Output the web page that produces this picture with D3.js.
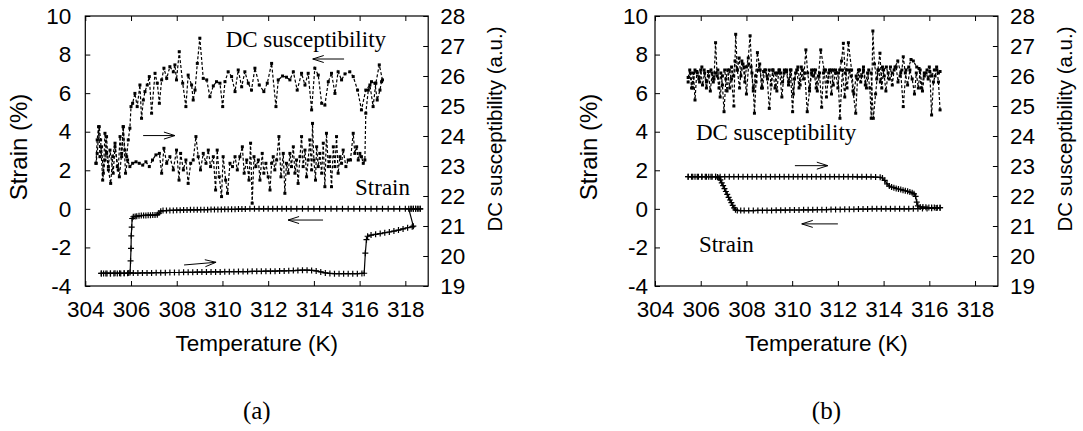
<!DOCTYPE html>
<html>
<head>
<meta charset="utf-8">
<script src="https://cdn.jsdelivr.net/npm/d3@7"></script>
<style>
  html, body { margin: 0; padding: 0; background: #fff; }
  svg { display: block; }
</style>
</head>
<body>
<svg id="chart" width="1083" height="431"></svg>
<script>
// ---------------- DATA ----------------
const xTicks = [304, 306, 308, 310, 312, 314, 316, 318];
const strainTicks = [-4, -2, 0, 2, 4, 6, 8, 10];
const suscTicks = [19, 20, 21, 22, 23, 24, 25, 26, 27, 28];
const xDomain = [304, 319];
const strainDomain = [-4, 10];
const suscDomain = [19, 28];
const panelLabels = ["(a)", "(b)"];
const xTitle = "Temperature (K)";
const yTitle = "Strain (%)";
const y2Title = "DC susceptibility (a.u.)";

// Panel (a) strain, heating branch [T, strain %]
const strainHeatA = [[304.7,-3.35],[304.9,-3.35],[305.1,-3.35],[305.3,-3.34],[305.5,-3.34],[305.7,-3.34],[305.9,-3.33],[306.1,-3.33],[306.3,-3.33],[306.5,-3.32],[306.7,-3.32],[306.9,-3.32],[307.1,-3.31],[307.3,-3.31],[307.5,-3.31],[307.7,-3.30],[307.9,-3.30],[308.1,-3.30],[308.3,-3.29],[308.5,-3.29],[308.7,-3.29],[308.9,-3.28],[309.1,-3.28],[309.3,-3.28],[309.5,-3.27],[309.7,-3.27],[309.9,-3.27],[310.1,-3.26],[310.3,-3.26],[310.5,-3.26],[310.7,-3.25],[310.9,-3.25],[311.1,-3.25],[311.3,-3.24],[311.5,-3.24],[311.7,-3.24],[311.9,-3.23],[312.1,-3.23],[312.3,-3.23],[312.5,-3.22],[312.7,-3.22],[312.9,-3.21],[313.1,-3.20],[313.3,-3.19],[313.5,-3.18],[313.7,-3.18],[313.9,-3.19],[314.1,-3.22],[314.3,-3.27],[314.5,-3.32],[314.7,-3.35],[314.9,-3.36],[315.1,-3.36],[315.3,-3.36],[315.5,-3.36],[315.7,-3.36],[315.9,-3.36],[316.1,-3.35],[316.2,-3.34],[316.25,-2.3],[316.3,-1.6],[316.35,-1.42],[316.5,-1.36],[316.7,-1.32],[316.9,-1.28],[317.1,-1.24],[317.3,-1.2],[317.5,-1.15],[317.7,-1.1],[317.9,-1.04],[318.1,-0.98],[318.3,-0.93],[318.35,-0.9],[318.15,0.0],[318.25,0.0],[318.35,0.0],[318.45,0.0],[318.55,0.0],[318.65,0.0]];
// Panel (a) strain, cooling branch
const strainCoolA = [[318.65,0],[318.55,0],[318.45,0],[318.35,0],[318.25,0],[318.0,0],[317.75,0],[317.5,0],[317.25,0],[317.0,0],[316.75,0],[316.5,0],[316.25,0],[316.0,0],[315.75,0],[315.5,0],[315.25,0],[315.0,0],[314.75,0],[314.5,0],[314.25,0],[314.0,0],[313.75,0],[313.5,0],[313.25,0],[313.0,0],[312.8,0],[312.6,0],[312.4,0],[312.2,0],[312.0,0],[311.8,0],[311.6,0],[311.4,0],[311.2,0],[311.0,-0.01],[310.85,-0.01],[310.7,-0.01],[310.55,-0.02],[310.4,-0.02],[310.25,-0.02],[310.1,-0.02],[309.95,-0.03],[309.8,-0.03],[309.65,-0.03],[309.5,-0.03],[309.35,-0.04],[309.2,-0.04],[309.05,-0.04],[308.9,-0.05],[308.75,-0.05],[308.6,-0.05],[308.45,-0.06],[308.3,-0.06],[308.15,-0.07],[308.0,-0.07],[307.85,-0.08],[307.7,-0.08],[307.55,-0.09],[307.4,-0.09],[307.3,-0.12],[307.22,-0.22],[307.15,-0.3],[307.05,-0.32],[306.95,-0.32],[306.85,-0.33],[306.75,-0.33],[306.65,-0.34],[306.55,-0.34],[306.45,-0.35],[306.35,-0.36],[306.25,-0.38],[306.18,-0.4],[306.1,-0.41],[306.05,-0.5],[306.03,-0.95],[306.01,-1.4],[306.0,-2.05],[305.98,-2.7],[305.96,-3.3],[305.85,-3.34],[305.7,-3.34],[305.55,-3.35],[305.4,-3.35],[305.25,-3.35],[305.1,-3.35],[304.95,-3.35],[304.8,-3.35],[304.7,-3.35]];
// Panel (a) DC susceptibility, heating branch [T, a.u.]
const suscHeatA = [[304.47,23.09],[304.52,23.87],[304.58,24.31],[304.64,23.31],[304.71,23.64],[304.79,22.76],[304.86,24.09],[304.93,23.42],[305.01,22.87],[305.11,22.42],[305.20,23.31],[305.30,23.76],[305.40,22.98],[305.49,22.64],[305.59,23.42],[305.66,24.31],[305.76,22.76],[305.85,23.20],[305.95,22.98],[306.07,23.09],[306.22,23.14],[306.36,23.09],[306.51,23.03],[306.65,23.14],[306.80,22.98],[306.94,23.20],[307.09,23.37],[307.24,23.42],[307.34,22.76],[307.44,23.59],[307.56,23.09],[307.70,23.31],[307.85,22.87],[307.99,23.53],[308.10,22.53],[308.17,23.42],[308.29,22.87],[308.40,23.20],[308.50,22.42],[308.61,23.09],[308.72,23.20],[308.84,23.98],[308.94,23.31],[309.04,22.87],[309.16,23.42],[309.28,23.09],[309.38,23.53],[309.48,22.98],[309.60,23.31],[309.70,22.20],[309.77,23.53],[309.86,22.64],[309.96,21.98],[310.03,23.31],[310.14,22.53],[310.22,22.09],[310.33,23.09],[310.44,22.98],[310.55,23.31],[310.65,22.87],[310.76,23.31],[310.87,23.64],[310.95,22.76],[311.06,23.20],[311.16,22.53],[311.23,23.76],[311.30,21.76],[311.38,23.31],[311.46,22.98],[311.57,23.20],[311.64,22.53],[311.74,23.42],[311.81,22.76],[311.90,23.09],[312.00,22.64],[312.08,22.20],[312.15,23.09],[312.22,23.31],[312.29,22.87],[312.37,23.20],[312.47,23.98],[312.56,22.64],[312.66,23.42],[312.73,22.09],[312.80,23.09],[312.88,22.76],[312.95,23.42],[313.02,22.98],[313.10,23.64],[313.17,22.76],[313.24,23.20],[313.31,22.42],[313.39,23.31],[313.46,23.98],[313.53,22.98],[313.61,23.53],[313.68,22.64],[313.75,23.20],[313.82,23.87],[313.90,22.87],[313.94,24.42],[314.00,23.20],[314.07,22.53],[314.12,23.64],[314.19,22.98],[314.26,23.42],[314.34,22.76],[314.41,23.76],[314.48,22.31],[314.55,24.09],[314.63,22.98],[314.70,23.31],[314.77,22.31],[314.85,23.64],[314.92,22.98],[314.99,23.98],[315.06,22.76],[315.14,23.31],[315.21,23.09],[315.28,23.53],[315.40,22.98],[315.50,23.20],[315.60,23.20],[315.72,24.09],[315.79,23.42],[315.87,23.64],[315.94,23.20],[316.01,23.42],[316.08,23.31],[316.16,23.09],[316.23,23.20],[316.27,24.76],[316.38,25.53],[316.52,25.81],[316.67,25.76],[316.77,25.20],[316.89,25.53],[316.96,25.81]];
// Panel (a) DC susceptibility, cooling branch
const suscCoolA = [[317.00,25.87],[316.86,26.37],[316.71,25.76],[316.59,24.98],[316.45,25.70],[316.27,25.53],[316.08,24.87],[315.91,25.53],[315.72,25.98],[315.57,26.14],[315.36,26.07],[315.21,25.87],[315.06,26.14],[314.92,25.42],[314.77,26.09],[314.63,25.81],[314.48,25.03],[314.34,25.09],[314.19,26.03],[314.04,26.26],[313.90,24.87],[313.75,26.09],[313.61,25.70],[313.46,26.09],[313.27,25.53],[313.10,26.14],[312.95,25.87],[312.80,25.96],[312.63,26.00],[312.44,25.87],[312.34,24.98],[312.15,26.42],[311.96,25.76],[311.81,25.48],[311.61,25.70],[311.42,26.26],[311.27,25.53],[311.13,25.76],[310.98,26.14],[310.84,25.64],[310.69,26.20],[310.55,25.48],[310.40,25.98],[310.25,26.14],[310.11,25.81],[310.01,24.98],[309.89,25.76],[309.74,25.81],[309.60,25.67],[309.45,25.31],[309.31,25.87],[309.16,25.92],[309.01,27.26],[308.90,26.42],[308.80,25.53],[308.72,25.20],[308.65,25.70],[308.50,26.03],[308.40,24.98],[308.26,25.76],[308.11,26.81],[307.99,25.87],[307.92,26.37],[307.85,26.14],[307.70,26.31],[307.56,25.92],[307.44,26.26],[307.34,25.87],[307.24,25.09],[307.15,25.76],[307.05,26.09],[306.90,24.76],[306.80,25.98],[306.71,25.70],[306.61,25.48],[306.54,25.20],[306.46,24.59],[306.39,25.70],[306.27,24.98],[306.17,25.42],[306.07,25.09],[306.00,24.98],[305.95,24.26],[305.88,23.87],[305.81,23.31],[305.73,23.53],[305.66,24.31],[305.59,23.31],[305.52,23.98],[305.44,22.87],[305.30,23.64],[305.22,22.76],[305.08,23.53],[305.01,22.98],[304.93,23.98],[304.86,23.20],[304.76,22.53],[304.67,23.87],[304.61,24.31],[304.52,23.42],[304.47,23.09]];

// Panel (b) strain, heating branch
const strainHeatB = [[305.45,1.67],[305.65,1.67],[305.85,1.67],[306.05,1.67],[306.25,1.67],[306.45,1.67],[306.65,1.67],[306.85,1.67],[307.05,1.67],[307.25,1.67],[307.45,1.67],[307.65,1.67],[307.85,1.67],[308.05,1.67],[308.25,1.67],[308.45,1.67],[308.65,1.67],[308.85,1.67],[309.05,1.67],[309.25,1.67],[309.45,1.67],[309.65,1.67],[309.85,1.67],[310.05,1.67],[310.25,1.67],[310.45,1.67],[310.65,1.67],[310.85,1.67],[311.05,1.67],[311.25,1.67],[311.45,1.67],[311.65,1.67],[311.85,1.67],[312.05,1.67],[312.25,1.67],[312.45,1.67],[312.65,1.67],[312.85,1.66],[313.05,1.66],[313.25,1.66],[313.45,1.66],[313.65,1.65],[313.85,1.64],[313.95,1.6],[314.05,1.48],[314.15,1.3],[314.25,1.18],[314.35,1.13],[314.45,1.1],[314.55,1.06],[314.65,1.03],[314.75,1.0],[314.85,0.97],[314.95,0.94],[315.05,0.91],[315.15,0.87],[315.25,0.83],[315.33,0.78],[315.4,0.65],[315.45,0.35],[315.5,0.15],[315.6,0.1],[315.72,0.09],[315.85,0.08],[315.98,0.07],[316.1,0.07],[316.22,0.07],[316.35,0.06],[316.47,0.06]];
// Panel (b) strain, cooling branch
const strainCoolB = [[316.47,0.06],[316.3,0.04],[316.1,0.03],[315.9,0.02],[315.7,0.02],[315.5,0.01],[315.3,0.01],[315.1,0.0],[314.9,0.0],[314.7,0.0],[314.5,0.0],[314.3,0.0],[314.1,0.0],[313.9,0.0],[313.7,0.0],[313.5,0.0],[313.3,-0.01],[313.1,-0.01],[312.9,-0.01],[312.7,-0.02],[312.5,-0.02],[312.3,-0.02],[312.1,-0.03],[311.9,-0.03],[311.7,-0.03],[311.5,-0.04],[311.3,-0.04],[311.1,-0.04],[310.9,-0.05],[310.7,-0.05],[310.5,-0.05],[310.3,-0.06],[310.1,-0.06],[309.9,-0.06],[309.7,-0.07],[309.5,-0.07],[309.3,-0.07],[309.1,-0.08],[308.9,-0.08],[308.7,-0.08],[308.5,-0.08],[308.3,-0.09],[308.1,-0.09],[307.9,-0.09],[307.75,-0.09],[307.6,-0.08],[307.52,-0.05],[307.46,0.05],[307.4,0.18],[307.34,0.32],[307.28,0.46],[307.22,0.6],[307.16,0.75],[307.1,0.9],[307.04,1.05],[306.98,1.2],[306.92,1.35],[306.86,1.5],[306.8,1.6],[306.74,1.65],[306.65,1.67],[306.5,1.67],[306.35,1.67],[306.2,1.67],[306.05,1.67],[305.9,1.67],[305.75,1.67],[305.6,1.67],[305.45,1.67]];
// Panel (b) DC susceptibility, heating branch
const suscHeatB = [[305.45,25.95],[305.52,26.2],[305.6,25.6],[305.68,26.1],[305.75,25.2],[305.83,26.15],[305.92,25.9],[306.0,26.2],[306.08,25.7],[306.17,26.1],[306.25,25.8],[306.33,26.15],[306.42,25.5],[306.5,26.1],[306.58,25.9],[306.65,27.11],[306.72,26.0],[306.8,25.6],[306.88,26.1],[306.95,25.7],[307.02,24.81],[307.1,25.9],[307.18,26.2],[307.27,25.6],[307.35,26.3],[307.43,26.0],[307.5,26.5],[307.6,26.2],[307.68,26.6],[307.76,26.0],[307.85,26.4],[307.93,25.8],[308.0,26.3],[308.08,26.6],[308.16,27.34],[308.24,26.1],[308.3,25.6],[308.35,24.76],[308.42,25.8],[308.5,26.2],[308.58,26.4],[308.66,25.6],[308.75,26.15],[308.84,26.2],[308.92,25.9],[309.0,26.2],[309.08,25.7],[309.16,26.2],[309.25,26.1],[309.33,25.5],[309.42,26.2],[309.5,26.1],[309.58,25.8],[309.66,26.2],[309.75,26.15],[309.84,25.7],[309.92,26.2],[310.02,24.81],[310.1,25.9],[310.2,26.2],[310.3,25.6],[310.4,26.3],[310.5,25.9],[310.6,26.87],[310.68,26.1],[310.76,25.6],[310.85,26.2],[310.93,26.0],[311.02,26.2],[311.1,25.5],[311.2,26.1],[311.29,24.96],[311.37,26.1],[311.46,26.2],[311.55,25.8],[311.63,26.2],[311.72,25.4],[311.8,26.2],[311.9,26.1],[312.0,25.6],[312.08,26.2],[312.16,26.5],[312.24,27.09],[312.32,26.1],[312.4,25.6],[312.5,26.2],[312.58,26.0],[312.66,25.5],[312.78,24.76],[312.86,25.9],[312.95,26.2],[313.04,26.0],[313.12,26.2],[313.2,25.7],[313.3,26.1],[313.4,25.6],[313.46,24.59],[313.53,27.5],[313.6,26.4],[313.7,25.9],[313.78,26.2],[313.86,25.8],[313.95,26.3],[314.03,26.0],[314.1,25.5],[314.2,26.1],[314.3,26.3],[314.38,25.7],[314.46,26.2],[314.55,26.3],[314.63,25.8],[314.72,26.0],[314.8,26.2],[314.86,26.64],[314.95,26.1],[315.05,25.7],[315.15,26.2],[315.25,25.9],[315.35,25.4],[315.43,26.1],[315.52,25.6],[315.6,26.2],[315.7,25.5],[315.78,26.0],[315.86,26.1],[315.95,25.9],[316.02,26.15],[316.1,24.7],[316.18,25.8],[316.25,26.0],[316.33,26.2],[316.4,26.1],[316.47,26.15]];
// Panel (b) DC susceptibility, cooling branch
const suscCoolB = [[316.47,24.87],[316.4,25.8],[316.32,26.3],[316.22,26.2],[316.1,26.0],[316.0,26.3],[315.9,26.2],[315.78,26.1],[315.65,25.6],[315.55,26.25],[315.45,26.3],[315.3,26.5],[315.2,26.55],[315.1,26.3],[314.98,26.2],[314.86,24.98],[314.75,26.1],[314.62,26.5],[314.5,26.3],[314.38,26.1],[314.25,25.9],[314.12,26.3],[314.0,26.2],[313.92,25.6],[313.84,26.76],[313.75,26.2],[313.65,25.4],[313.55,24.59],[313.45,26.1],[313.35,26.2],[313.25,25.6],[313.12,26.3],[313.0,25.8],[312.9,26.2],[312.8,26.0],[312.7,25.4],[312.6,26.2],[312.46,27.11],[312.38,26.2],[312.3,25.3],[312.2,26.2],[312.09,24.59],[312.0,26.1],[311.9,26.2],[311.8,25.7],[311.7,26.2],[311.6,26.1],[311.5,25.3],[311.4,26.2],[311.25,26.87],[311.15,26.0],[311.05,25.6],[310.95,26.2],[310.85,26.1],[310.76,25.5],[310.66,24.81],[310.55,26.1],[310.45,26.2],[310.35,25.7],[310.25,26.3],[310.15,26.1],[310.05,25.4],[309.95,26.2],[309.85,25.8],[309.75,26.2],[309.65,26.1],[309.55,25.3],[309.45,26.2],[309.35,26.1],[309.25,25.6],[309.15,26.2],[309.0,24.92],[308.9,26.0],[308.8,26.2],[308.7,25.6],[308.6,26.2],[308.48,26.78],[308.4,26.0],[308.3,25.5],[308.2,26.3],[308.1,26.4],[308.0,25.4],[307.9,26.3],[307.8,26.5],[307.7,25.6],[307.6,26.2],[307.53,27.39],[307.45,25.0],[307.35,25.9],[307.25,26.2],[307.15,25.5],[307.05,26.2],[306.95,26.0],[306.85,25.3],[306.75,26.2],[306.65,26.1],[306.55,25.8],[306.45,26.2],[306.35,26.0],[306.25,25.6],[306.15,26.2],[306.05,26.3],[305.95,25.8],[305.85,26.1],[305.75,26.2],[305.65,25.6],[305.55,26.1],[305.45,25.8]];

// Annotations (data units on the strain axis): text labels and arrows
const textA = [{t:"DC susceptibility", T:310.14, s:8.39}, {t:"Strain", T:315.8, s:0.72}];
const arrowsA = [{T1:315.32, s1:7.77, T2:313.95, s2:7.77}, {T1:306.53, s1:3.8, T2:307.92, s2:3.8},
                 {T1:314.4, s1:-0.58, T2:312.87, s2:-0.58}, {T1:308.32, s1:-2.91, T2:309.72, s2:-2.77}];
const textB = [{t:"DC susceptibility", T:305.79, s:3.57}, {t:"Strain", T:305.92, s:-2.25}];
const arrowsB = [{T1:310.12, s1:2.24, T2:311.56, s2:2.24}, {T1:312.0, s1:-0.78, T2:310.42, s2:-0.78}];

// ---------------- DRAW ----------------
const SANS = "'Liberation Sans', Arial, Helvetica, sans-serif";
const SERIF = "'Liberation Serif', 'Times New Roman', Times, serif";
const svg = d3.select("#chart");
const top0 = 16, bot0 = 286;
const plainFmt = d => String(d);   // hyphen-minus, as in the original

function drawPanel(cfg) {
  const g = svg.append("g");
  const x = d3.scaleLinear().domain(xDomain).range([cfg.x0, cfg.x1]);
  const yS = d3.scaleLinear().domain(strainDomain).range([bot0, top0]);
  const yV = d3.scaleLinear().domain(suscDomain).range([bot0, top0]);

  const styleAxis = sel => {
    sel.select(".domain").remove();
    sel.selectAll(".tick line").attr("stroke", "#000").attr("stroke-width", 1);
    sel.selectAll(".tick text").attr("fill", "#000").style("font-family", SANS).style("font-size", "22.5px");
  };

  g.append("g").attr("transform", `translate(0,${bot0})`)
    .call(d3.axisBottom(x).tickValues(xTicks).tickFormat(plainFmt).tickSize(-5).tickPadding(15))
    .call(styleAxis);
  g.append("g").attr("transform", `translate(0,${top0})`)
    .call(d3.axisTop(x).tickValues(xTicks).tickFormat("").tickSize(-5))
    .call(styleAxis);
  g.append("g").attr("transform", `translate(${cfg.x0},0)`)
    .call(d3.axisLeft(yS).tickValues(strainTicks).tickFormat(plainFmt).tickSize(-5).tickPadding(cfg.leftPad))
    .call(styleAxis);
  g.append("g").attr("transform", `translate(${cfg.x1},0)`)
    .call(d3.axisRight(yV).tickValues(suscTicks).tickFormat(plainFmt).tickSize(-5).tickPadding(12))
    .call(styleAxis);

  // frame
  g.append("rect").attr("x", cfg.x0).attr("y", top0)
    .attr("width", cfg.x1 - cfg.x0).attr("height", bot0 - top0)
    .attr("fill", "none").attr("stroke", "#000").attr("stroke-width", 1.2);

  // susceptibility series: dashed line with small dots
  const lineV = d3.line().x(d => x(d[0])).y(d => yV(d[1]));
  cfg.susc.forEach(series => {
    g.append("path").datum(series).attr("d", lineV)
      .attr("fill", "none").attr("stroke", "#000").attr("stroke-width", 1.2)
      .attr("stroke-dasharray", "3,2");
    g.append("g").selectAll("rect").data(series).join("rect")
      .attr("x", d => x(d[0]) - 1.5).attr("y", d => yV(d[1]) - 1.5)
      .attr("width", 3).attr("height", 3).attr("fill", "#000");
  });

  // strain series: solid line with "+" markers
  const lineS = d3.line().x(d => x(d[0])).y(d => yS(d[1]));
  cfg.strain.forEach(series => {
    g.append("path").datum(series).attr("d", lineS)
      .attr("fill", "none").attr("stroke", "#000").attr("stroke-width", 1.2);
    g.append("g").selectAll("path").data(series).join("path")
      .attr("d", d => {
        const px = x(d[0]), py = yS(d[1]);
        return `M${px-3},${py}H${px+3}M${px},${py-3}V${py+3}`;
      })
      .attr("stroke", "#000").attr("stroke-width", 1.2).attr("fill", "none");
  });

  // annotation text
  cfg.texts.forEach(t => {
    g.append("text").attr("x", x(t.T)).attr("y", yS(t.s)).text(t.t)
      .style("font-family", SERIF).style("font-size", "23px").attr("fill", "#000");
  });
  // arrows
  cfg.arrows.forEach(a => {
    const x1 = x(a.T1), y1 = yS(a.s1), x2 = x(a.T2), y2 = yS(a.s2);
    const ang = Math.atan2(y2 - y1, x2 - x1);
    const L = 11, W = 3.5;
    const bx = x2 - L * Math.cos(ang), by = y2 - L * Math.sin(ang);
    const nx = -Math.sin(ang) * W, ny = Math.cos(ang) * W;
    g.append("path")
      .attr("d", `M${x1},${y1}L${x2},${y2}M${bx+nx},${by+ny}L${x2},${y2}L${bx-nx},${by-ny}`)
      .attr("stroke", "#000").attr("stroke-width", 1).attr("fill", "none");
  });

  const cx = (cfg.x0 + cfg.x1) / 2;
  g.append("text").attr("x", cx).attr("y", 350.5).attr("text-anchor", "middle")
    .text(xTitle).style("font-family", SANS).style("font-size", "22.5px");
  g.append("text").attr("transform", `translate(${cfg.x0 - 58},147) rotate(-90)`)
    .attr("text-anchor", "middle").text(yTitle)
    .style("font-family", SANS).style("font-size", "24px");
  g.append("text").attr("transform", `translate(${cfg.x1 + 74},129) rotate(-90)`)
    .attr("text-anchor", "middle").text(y2Title)
    .style("font-family", SANS).style("font-size", "20.5px");
  g.append("text").attr("x", cx).attr("y", 419).attr("text-anchor", "middle")
    .text(cfg.label).style("font-family", SERIF).style("font-size", "25px");
}

drawPanel({x0: 85.3, x1: 428.2, leftPad: 14, label: panelLabels[0],
  strain: [strainHeatA, strainCoolA], susc: [suscHeatA, suscCoolA], texts: textA, arrows: arrowsA});
drawPanel({x0: 655, x1: 997.9, leftPad: 7, label: panelLabels[1],
  strain: [strainHeatB, strainCoolB], susc: [suscHeatB, suscCoolB], texts: textB, arrows: arrowsB});
</script>
</body>
</html>
